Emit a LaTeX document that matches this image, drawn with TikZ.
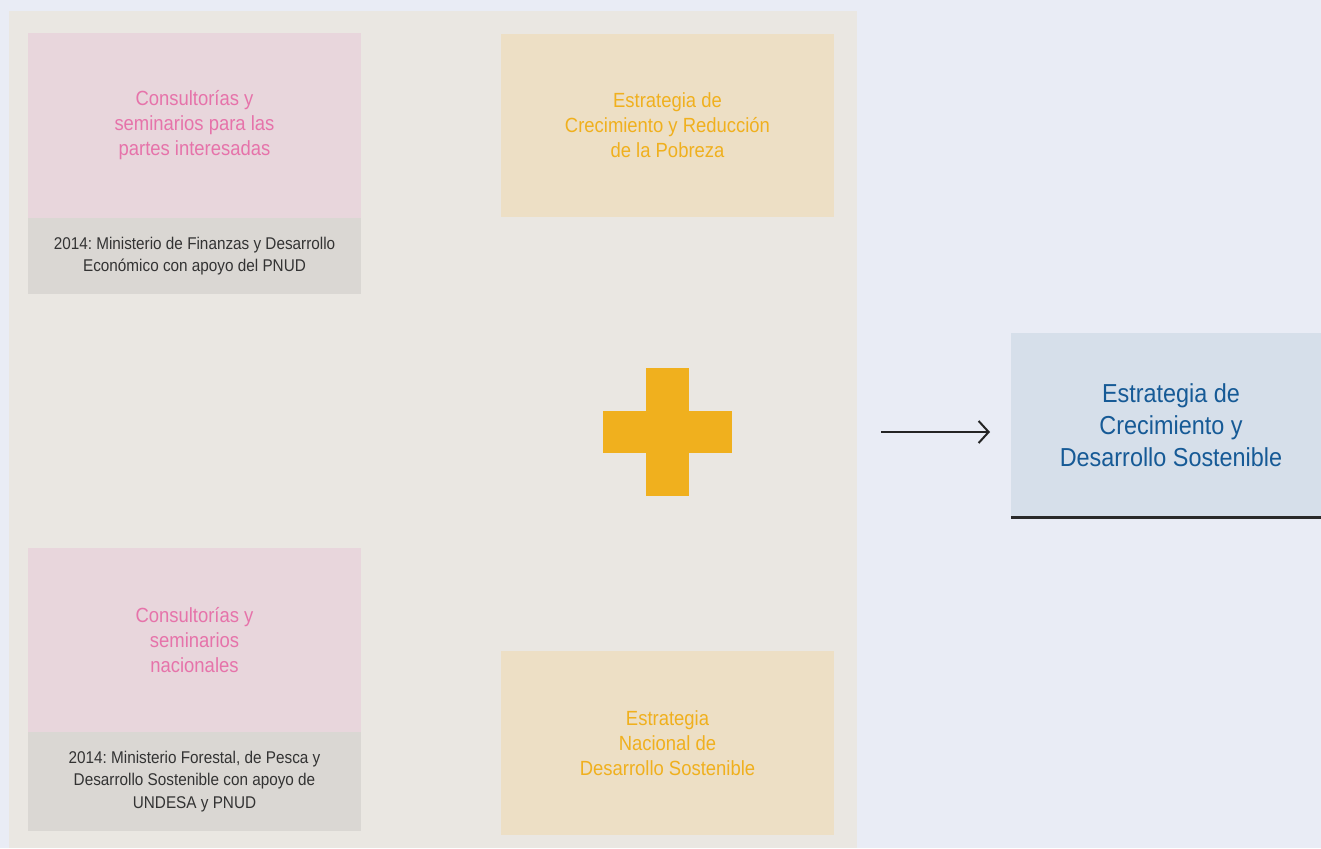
\documentclass[tikz,border=0pt]{standalone}
\usepackage{fontspec}
\setmainfont{Liberation Sans}[FakeStretch=0.9]
\usepackage{tikz}
\usetikzlibrary{arrows.meta}
\usepackage{xcolor}
\frenchspacing

\definecolor{pagebg}{RGB}{233,236,245}
\definecolor{panelbg}{RGB}{234,231,226}
\definecolor{pinkbox}{RGB}{232,214,220}
\definecolor{graybox}{RGB}{218,215,211}
\definecolor{orangebox}{RGB}{237,223,197}
\definecolor{bluebox}{RGB}{214,223,234}
\definecolor{pinktext}{RGB}{230,115,170}
\definecolor{orangetext}{RGB}{240,176,30}
\definecolor{bluetext}{RGB}{22,90,150}
\definecolor{graytext}{RGB}{51,51,51}

\begin{document}
\begin{tikzpicture}[x=1pt, y=-1pt,
    box/.style={rectangle, inner sep=0pt, minimum width=333pt, align=center},
    pinkcell/.style={box, fill=pinkbox, text=pinktext, font=\fontsize{20.5}{25}\selectfont},
    graycell/.style={box, fill=graybox, text=graytext, font=\fontsize{17}{22.5}\selectfont},
    orangecell/.style={box, fill=orangebox, text=orangetext, font=\fontsize{20.5}{25}\selectfont},
    goalcell/.style={box, minimum width=320pt, minimum height=184pt, fill=bluebox, text=bluetext, font=\fontsize{26}{32}\selectfont}]
    % Fondo

    \useasboundingbox (0,0) rectangle (1321,848);
    \clip (0,0) rectangle (1321,848);
    \fill[pagebg] (0,0) rectangle (1321,848);
    \fill[panelbg] (9,11) rectangle (857,848);

    % Cajas

    \node[pinkcell, minimum height=185pt] (consultA) at (194.5,125.5) {Consultorías y\\seminarios para las\\partes interesadas};
    \node[graycell, minimum height=76pt] (ministryA) at (194.5,256) {2014: Ministerio de Finanzas y Desarrollo\\Económico con apoyo del PNUD};
    \node[orangecell, minimum height=183pt] (povertyplan) at (667.5,125.5) {Estrategia de\\Crecimiento y Reducción\\de la Pobreza};
    \node[pinkcell, minimum height=184pt] (consultB) at (194.5,640) {Consultorías y\\seminarios\\nacionales};
    \node[graycell, minimum height=99pt] (ministryB) at (194.5,781.5) {2014: Ministerio Forestal, de Pesca y\\Desarrollo Sostenible con apoyo de\\UNDESA y PNUD};
    \node[orangecell, minimum height=184pt] (nationalplan) at (667.5,743) {Estrategia\\Nacional de\\Desarrollo Sostenible};
    \node[goalcell] (goal) at (1171,425) {Estrategia de\\Crecimiento y\\Desarrollo Sostenible};
    \draw[line width=3pt, graytext!80!black] (goal.south west) -- (goal.south east);

    % Signo más

    \fill[orangetext] (646,368) rectangle (689,496);
    \fill[orangetext] (603,411) rectangle (732,453);

    % Flecha

    \coordinate (arrowstart) at (881,432);
    \coordinate (arrowend) at (990,432);
    \draw[line width=2pt, graytext!70!black, -{Straight Barb[length=10pt, width=22pt, line width=2pt]}] (arrowstart) -- (arrowend);

\end{tikzpicture}
\end{document}
